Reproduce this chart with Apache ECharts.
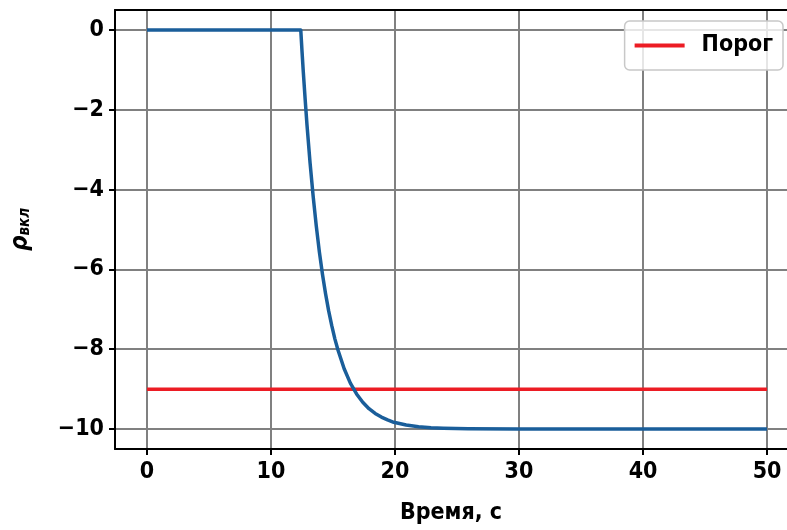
<!DOCTYPE html>
<html><head><meta charset="utf-8">
<script src="https://cdn.jsdelivr.net/npm/echarts@6/dist/echarts.min.js"></script>
<style>html,body{margin:0;padding:0;background:#fff}#c{width:787px;height:530px}</style>
</head><body><div id="c"></div>
<script>
const timeS = [0, 12.4, 12.5, 12.6, 12.75, 12.9, 13.15, 13.4, 13.65, 13.9, 14.15, 14.4, 14.65, 14.9, 15.15, 15.4, 15.9, 16.4, 16.9, 17.4, 17.9, 18.4, 18.9, 19.4, 19.9, 20.9, 21.9, 22.9, 23.9, 25.9, 29.9, 40, 50];
const rho = [0, 0, -0.53, -1.03, -1.72, -2.37, -3.33, -4.17, -4.91, -5.56, -6.12, -6.61, -7.04, -7.41, -7.74, -8.02, -8.49, -8.85, -9.12, -9.33, -9.49, -9.61, -9.70, -9.77, -9.83, -9.90, -9.94, -9.97, -9.98, -9.99, -10, -10, -10];
const thresholdT = [0, 50];
const thresholdV = [-9, -9];
const xTicks = [0, 10, 20, 30, 40, 50];
const yTicks = [0, -2, -4, -6, -8, -10];

const font = 'DejaVu Sans Condensed, DejaVu Sans';
const lbl = {fontFamily: font, fontWeight: 'bold', fontSize: 23, color: '#000'};
const chart = echarts.init(document.getElementById('c'));
chart.setOption({
  animation: false,
  grid: {left: 115, top: 10, right: 0, bottom: 76, containLabel: false},
  legend: {
    right: 4, top: 21, itemWidth: 50, itemHeight: 4, itemGap: 10,
    padding: [13, 10, 13, 10],
    borderColor: '#c8c8c8', borderWidth: 1.5, borderRadius: 5, backgroundColor: 'rgba(255,255,255,0.8)',
    textStyle: Object.assign({}, lbl, {padding: [0, 0, 0, 12]}),
    data: [{name: 'Порог', icon: 'rect'}]
  },
  xAxis: [{
    type: 'value', min: -2.58, max: 51.61,
    name: 'Время, с', nameLocation: 'middle', nameGap: 53,
    nameTextStyle: lbl,
    axisLine: {show: true, onZero: false, lineStyle: {color: '#000', width: 2}},
    axisTick: {show: true, inside: false, length: 6, lineStyle: {color: '#000', width: 2}, customValues: xTicks},
    axisLabel: Object.assign({margin: 12, customValues: xTicks}, lbl),
    splitLine: {show: true, lineStyle: {color: '#808080', width: 2}, customValues: xTicks}
  }, {
    type: 'value', position: 'top', min: -2.58, max: 51.61,
    axisLine: {show: true, onZero: false, lineStyle: {color: '#000', width: 2}},
    axisTick: {show: false}, axisLabel: {show: false}, splitLine: {show: false}
  }],
  yAxis: {
    type: 'value', min: -10.5, max: 0.5,
    name: '{r|ρ}{s|вкл}', nameLocation: 'middle', nameGap: 82, nameRotate: 90,
    nameTextStyle: Object.assign({}, lbl, {
      rich: {r: {fontFamily: font, fontWeight: 'bold', fontStyle: 'italic', fontSize: 24, color: '#000'},
             s: {fontFamily: font, fontWeight: 'bold', fontStyle: 'italic', fontSize: 15, color: '#000', verticalAlign: 'bottom', padding: [9, 0, 0, 0]}}}),
    axisLine: {show: true, onZero: false, lineStyle: {color: '#000', width: 2}},
    axisTick: {show: true, inside: false, length: 6, lineStyle: {color: '#000', width: 2}, customValues: yTicks},
    axisLabel: Object.assign({margin: 11, customValues: yTicks, formatter: v => String(v).replace('-', '−')}, lbl),
    splitLine: {show: true, lineStyle: {color: '#808080', width: 2}, customValues: yTicks}
  },
  series: [
    {name: 'rho', type: 'line', data: timeS.map((t, i) => [t, rho[i]]), showSymbol: false, smooth: false,
     lineStyle: {color: '#1a5e9a', width: 3.5, join: 'round'}, itemStyle: {color: '#1a5e9a'}, z: 3},
    {name: 'Порог', type: 'line', data: thresholdT.map((t, i) => [t, thresholdV[i]]), showSymbol: false,
     lineStyle: {color: '#ec1c24', width: 3.5}, itemStyle: {color: '#ec1c24'}, z: 2}
  ]
});
</script></body></html>
